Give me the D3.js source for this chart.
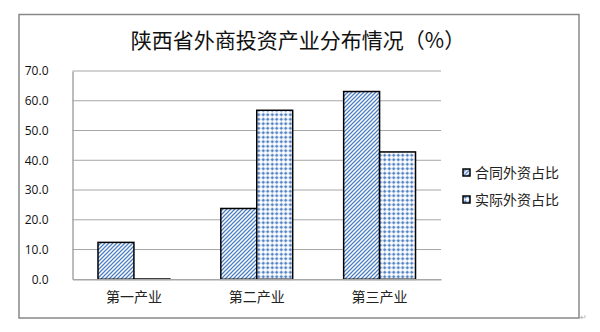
<!DOCTYPE html>
<html>
<head>
<meta charset="utf-8">
<script src="https://cdn.jsdelivr.net/npm/d3@7"></script>
<style>
    body { margin: 0; background: #fff; }
</style>
</head>
<body>
<div id="chart"></div>
<script>
const categories = ["第一产业", "第二产业", "第三产业"];
const seriesNames = ["合同外资占比", "实际外资占比"];
const contractShare = [12.4, 23.8, 63.1];
const actualShare = [0.1, 56.8, 42.8];
const yTicks = [0, 10, 20, 30, 40, 50, 60, 70];

const width = 600;
const height = 332;
const blue = "#4a7dc2";

const svg = d3.select("#chart")
    .append("svg")
    .attr("width", width)
    .attr("height", height);

// patterns for the two series
const defs = svg.append("defs");
const stripes = defs.append("pattern")
    .attr("id", "pat-stripes")
    .attr("patternUnits", "userSpaceOnUse")
    .attr("width", 4).attr("height", 4);
stripes.append("rect").attr("width", 4).attr("height", 4).attr("fill", "#fff");
stripes.append("path")
    .attr("d", "M-1,1 L1,-1 M0,4 L4,0 M3,5 L5,3")
    .attr("stroke", blue)
    .attr("stroke-width", 1.25);

const dots = defs.append("pattern")
    .attr("id", "pat-dots")
    .attr("patternUnits", "userSpaceOnUse")
    .attr("width", 4.5).attr("height", 4.5);
dots.append("rect").attr("width", 4.5).attr("height", 4.5).attr("fill", "#fff");
dots.append("path")
    .attr("d", "M1.6,0.6 H2.9 V1.6 H3.9 V2.9 H2.9 V3.9 H1.6 V2.9 H0.6 V1.6 H1.6 Z")
    .attr("fill", blue);

const fills = ["url(#pat-stripes)", "url(#pat-dots)"];

// outer frame
svg.append("rect")
    .attr("x", 19).attr("y", 14.5)
    .attr("width", 560).attr("height", 303.5)
    .attr("fill", "none")
    .attr("stroke", "#888")
    .attr("stroke-width", 1.5);

svg.append("text")
    .attr("x", 298)
    .attr("y", 48)
    .attr("text-anchor", "middle")
    .style("font-family", "'Noto Sans CJK SC', sans-serif")
    .style("font-size", "21px")
    .attr("fill", "#111")
    .text("陕西省外商投资产业分布情况（%）");

const x = d3.scaleBand()
    .domain(categories)
    .range([72.5, 441])
    .paddingInner(0.415)
    .paddingOuter(0.2075);
const xSub = d3.scaleBand()
    .domain(d3.range(seriesNames.length))
    .range([0, x.bandwidth()]);
const y = d3.scaleLinear().domain([0, 70]).range([279.3, 71]);

// gridlines
svg.append("g")
    .selectAll("line")
    .data(yTicks.slice(1))
    .enter()
    .append("line")
    .attr("x1", 72.5).attr("x2", 441)
    .attr("y1", d => y(d)).attr("y2", d => y(d))
    .attr("stroke", "#a6a6a6")
    .attr("stroke-width", 1);

const yAxis = d3.axisLeft(y)
    .tickValues(yTicks)
    .tickSize(0)
    .tickPadding(24)
    .tickFormat(d3.format(".1f"));
const yG = svg.append("g")
    .attr("transform", "translate(72.5,0)")
    .call(yAxis);
yG.select(".domain").attr("stroke", "#a6a6a6").attr("stroke-width", 1.5);
yG.selectAll("text")
    .attr("fill", "#111")
    .style("font-family", "'Open Sans', sans-serif")
    .style("font-size", "12px");

const seriesData = [contractShare, actualShare];
const groups = svg.append("g")
    .selectAll("g")
    .data(seriesData)
    .enter()
    .append("g");
groups.selectAll("rect")
    .data((vals, si) => vals.map((v, ci) => ({ v: v, ci: ci, si: si })))
    .enter()
    .append("rect")
    .attr("x", d => x(categories[d.ci]) + xSub(d.si))
    .attr("y", d => y(d.v))
    .attr("width", xSub.bandwidth())
    .attr("height", d => y(0) - y(d.v))
    .attr("fill", d => fills[d.si])
    .attr("stroke", "#000")
    .attr("stroke-width", 1.5);

// category axis
const xAxis = d3.axisBottom(x).tickSize(0).tickPadding(13);
const xG = svg.append("g")
    .attr("transform", `translate(0,${y(0)})`)
    .call(xAxis);
xG.select(".domain").attr("stroke", "#a6a6a6").attr("stroke-width", 1.5);
xG.selectAll("text")
    .attr("fill", "#222")
    .style("font-family", "'Noto Sans CJK SC', sans-serif")
    .style("font-size", "14px");

// legend
const legend = svg.append("g")
    .selectAll("g")
    .data(seriesNames)
    .enter()
    .append("g")
    .attr("transform", (d, i) => `translate(463,${172.5 + i * 27})`);
legend.append("rect")
    .attr("x", 0).attr("y", -3.5)
    .attr("width", 7).attr("height", 7)
    .attr("fill", (d, i) => fills[i])
    .attr("stroke", "#000")
    .attr("stroke-width", 1.5);
legend.append("text")
    .attr("x", 12)
    .attr("y", 5)
    .attr("fill", "#222")
    .style("font-family", "'Noto Sans CJK SC', sans-serif")
    .style("font-size", "14px")
    .text(d => d);

svg.append("text")
    .attr("x", 580).attr("y", 320)
    .attr("fill", "#aaa")
    .style("font-size", "8px")
    .text("↵");
</script>
</body>
</html>
